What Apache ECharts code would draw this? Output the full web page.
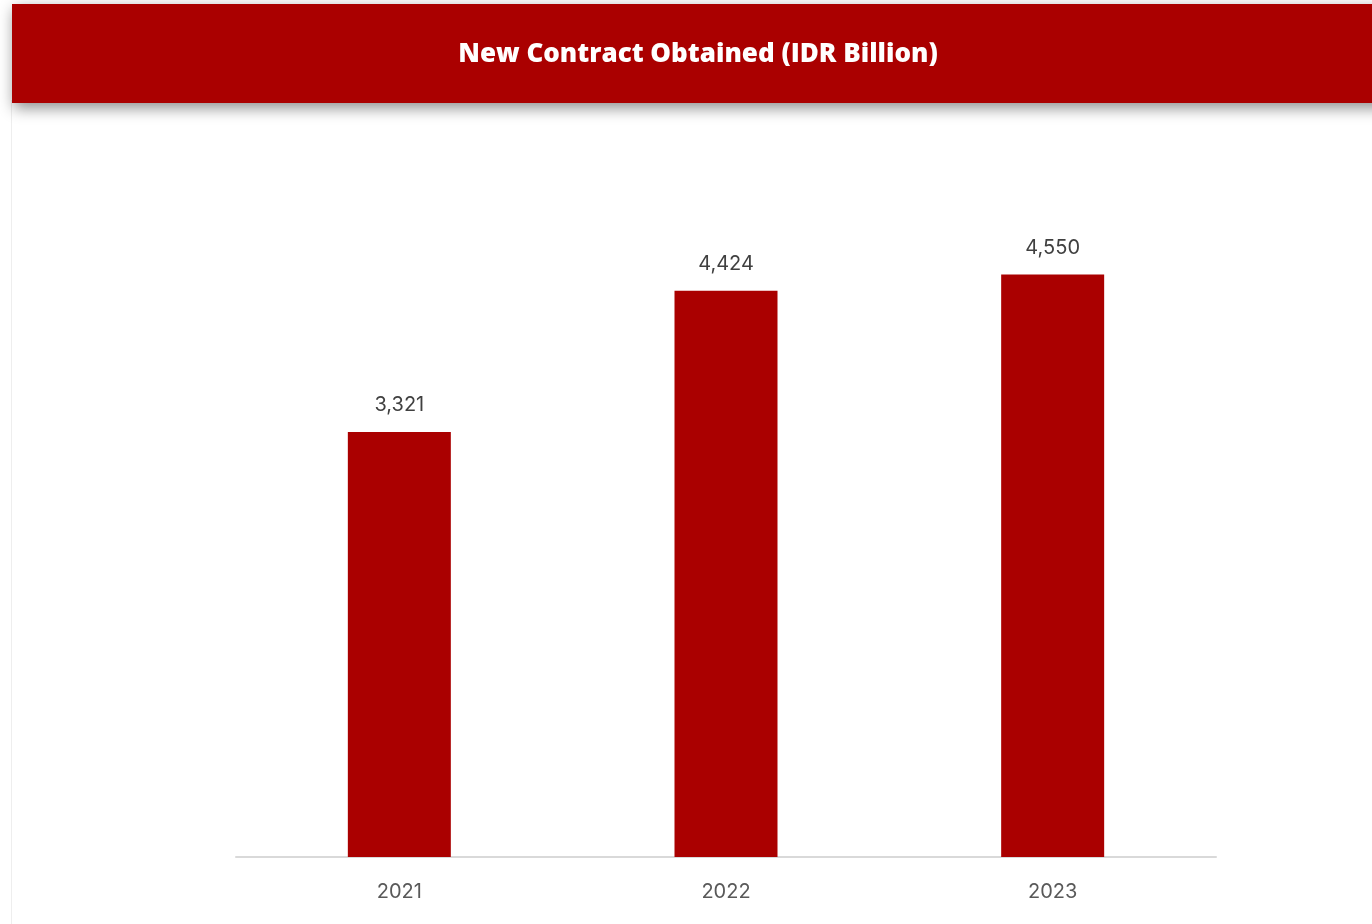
<!DOCTYPE html>
<html>
<head>
<meta charset="utf-8">
<script src="https://cdn.jsdelivr.net/npm/echarts@6/dist/echarts.min.js"></script>
<style>
  html, body { margin: 0; padding: 0; background: #fff; }
  #chart { width: 1372px; height: 924px; }
</style>
</head>
<body>
<div id="chart"></div>
<script>
// Annual new contracts, IDR billion
const years = ['2021', '2022', '2023'];
const newContracts = [3321, 4424, 4550];

const RED = '#AA0000';
const chart = echarts.init(document.getElementById('chart'));

chart.setOption({
  backgroundColor: '#ffffff',
  animation: false,
  title: {
    text: 'New Contract Obtained (IDR Billion)',
    left: 693,
    top: 37,
    textAlign: 'center',
    textStyle: {
      color: '#ffffff',
      fontFamily: 'Open Sans',
      fontWeight: 800,
      fontSize: 26
    }
  },
  graphic: [
    {
      type: 'line',
      z: -1,
      shape: { x1: 11.5, y1: 100, x2: 11.5, y2: 924 },
      style: { stroke: '#eeeeee', lineWidth: 1 }
    },
    {
      type: 'rect',
      z: -1,
      shape: { x: 12, y: 4, width: 1400, height: 99 },
      style: {
        fill: RED,
        shadowBlur: 14,
        shadowOffsetY: 5,
        shadowOffsetX: 2,
        shadowColor: 'rgba(0,0,0,0.45)'
      }
    }
  ],
  grid: { left: 236, right: 156, top: 217, bottom: 67 },
  xAxis: {
    type: 'category',
    data: years,
    axisLine: { lineStyle: { color: '#d9d9d9', width: 2 } },
    axisTick: { show: false },
    axisLabel: {
      color: '#595959',
      fontFamily: 'Inter',
      fontSize: 20,
      margin: 25
    }
  },
  yAxis: {
    type: 'value',
    min: 0,
    max: 5000,
    show: false,
    splitLine: { show: false }
  },
  series: [{
    type: 'bar',
    data: newContracts,
    barWidth: 103,
    itemStyle: { color: RED },
    label: {
      show: true,
      position: 'top',
      distance: 17,
      color: '#404040',
      fontFamily: 'Inter',
      fontSize: 20,
      formatter: p => p.value.toLocaleString('en-US')
    }
  }]
});
</script>
</body>
</html>
